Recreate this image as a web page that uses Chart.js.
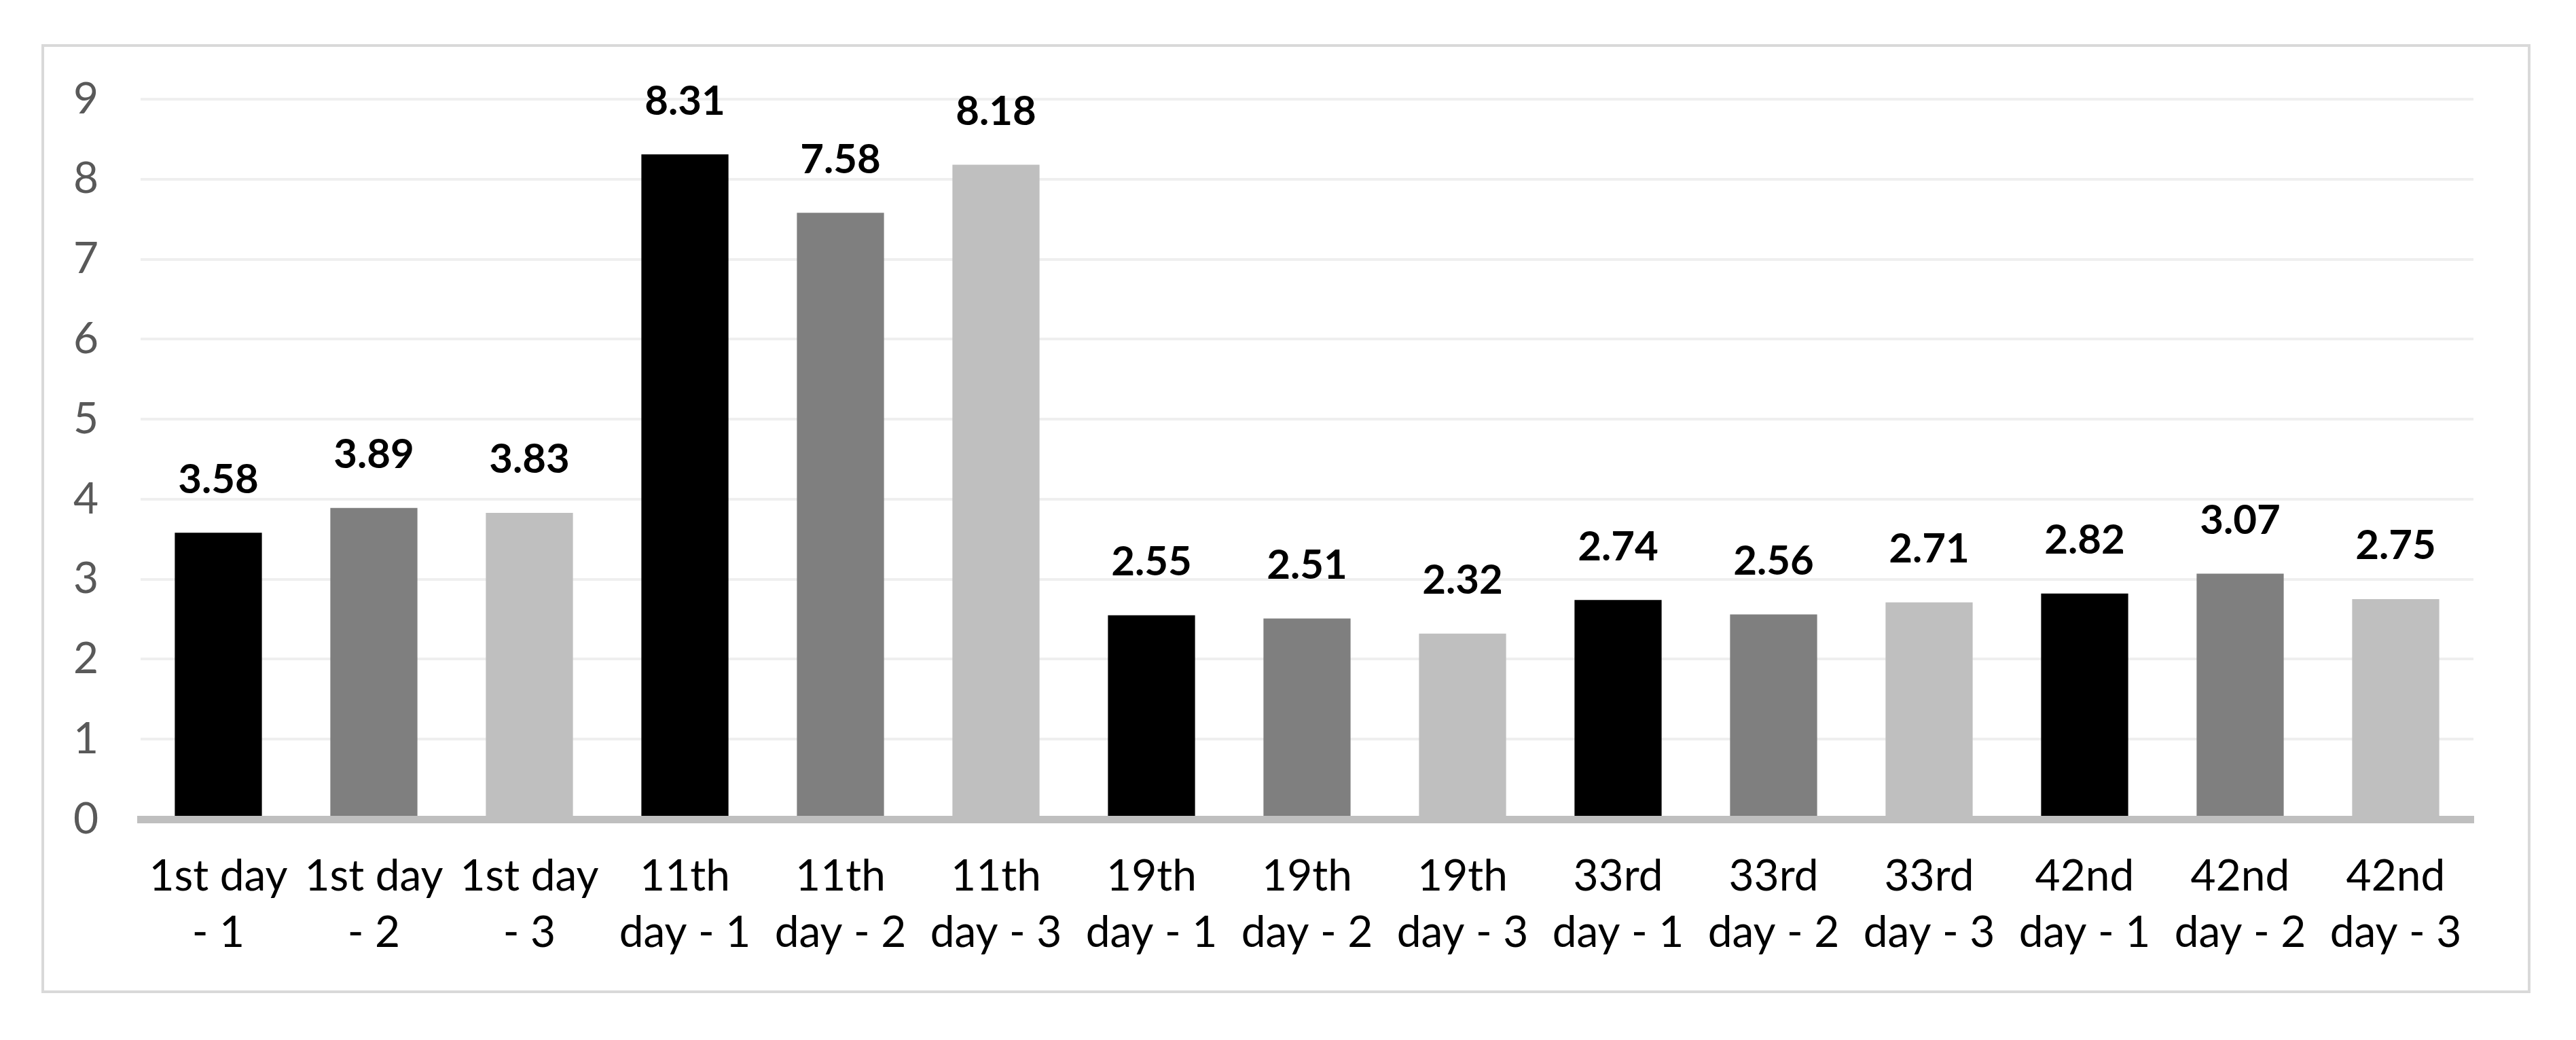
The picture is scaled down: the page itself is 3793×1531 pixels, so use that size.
<!DOCTYPE html>
<html>
<head>
<meta charset="utf-8">
<script src="https://cdn.jsdelivr.net/npm/chart.js@4.4.1/dist/chart.umd.min.js"></script>
<style>
  html, body { margin: 0; padding: 0; background: #fff; }
  canvas { display: block; }
</style>
</head>
<body>
<canvas id="chart" width="3793" height="1531"></canvas>
<script>
// sampling days, 3 replicates each
const categories = [
  ['1st day', '- 1'], ['1st day', '- 2'], ['1st day', '- 3'],
  ['11th', 'day - 1'], ['11th', 'day - 2'], ['11th', 'day - 3'],
  ['19th', 'day - 1'], ['19th', 'day - 2'], ['19th', 'day - 3'],
  ['33rd', 'day - 1'], ['33rd', 'day - 2'], ['33rd', 'day - 3'],
  ['42nd', 'day - 1'], ['42nd', 'day - 2'], ['42nd', 'day - 3'],
];
const values = [3.58, 3.89, 3.83, 8.31, 7.58, 8.18, 2.55, 2.51, 2.32, 2.74, 2.56, 2.71, 2.82, 3.07, 2.75];
const yTicks = [0, 1, 2, 3, 4, 5, 6, 7, 8, 9];

const shades = ['#000000', '#7f7f7f', '#bfbfbf'];
const FONT = 'Lato, "Open Sans", sans-serif';

// white background + light frame round the whole chart
const frame = {
  id: 'frame',
  beforeDraw(chart) {
    const ctx = chart.ctx;
    ctx.save();
    ctx.fillStyle = '#fff';
    ctx.fillRect(0, 0, chart.width, chart.height);
    ctx.strokeStyle = '#d9d9d9';
    ctx.lineWidth = 4;
    ctx.strokeRect(63, 67, 3661, 1393);
    ctx.restore();
  }
};

// value above each bar
const valueLabels = {
  id: 'valueLabels',
  afterDatasetsDraw(chart) {
    const ctx = chart.ctx;
    const meta = chart.getDatasetMeta(0);
    ctx.save();
    ctx.font = 'bold 60px ' + FONT;
    ctx.fillStyle = '#000';
    ctx.textAlign = 'center';
    ctx.textBaseline = 'middle';
    meta.data.forEach((bar, i) => {
      ctx.fillText(values[i].toFixed(2), bar.x, bar.y - 78);
    });
    ctx.restore();
  }
};

new Chart(document.getElementById('chart'), {
  type: 'bar',
  data: {
    labels: categories,
    datasets: [{
      data: values,
      backgroundColor: (c) => shades[c.dataIndex % 3],
      categoryPercentage: 1,
      barPercentage: 0.56,
    }],
  },
  options: {
    responsive: false,
    animation: false,
    devicePixelRatio: 1,
    layout: { padding: { left: 0, right: 151, top: 146, bottom: 0 } },
    plugins: { legend: { display: false }, tooltip: { enabled: false } },
    scales: {
      x: {
        grid: { display: false, drawTicks: false },
        border: { display: true, color: '#bfbfbf', width: 11, z: 1 },
        ticks: {
          autoSkip: false,
          maxRotation: 0,
          minRotation: 0,
          padding: 43,
          color: '#000',
          font: { family: FONT, size: 64, lineHeight: 1.3 },
        },
        afterFit(scale) { scale.height = 325; },
      },
      y: {
        min: 0,
        max: 9,
        afterBuildTicks(scale) { scale.ticks = yTicks.map((v) => ({ value: v })); },
        grid: { color: '#efefef', lineWidth: 4, drawTicks: false },
        border: { display: false },
        ticks: {
          padding: 62,
          color: '#595959',
          font: { family: FONT, size: 64 },
        },
        afterFit(scale) { scale.width = 207; },
      },
    },
  },
  plugins: [frame, valueLabels],
});
</script>
</body>
</html>
